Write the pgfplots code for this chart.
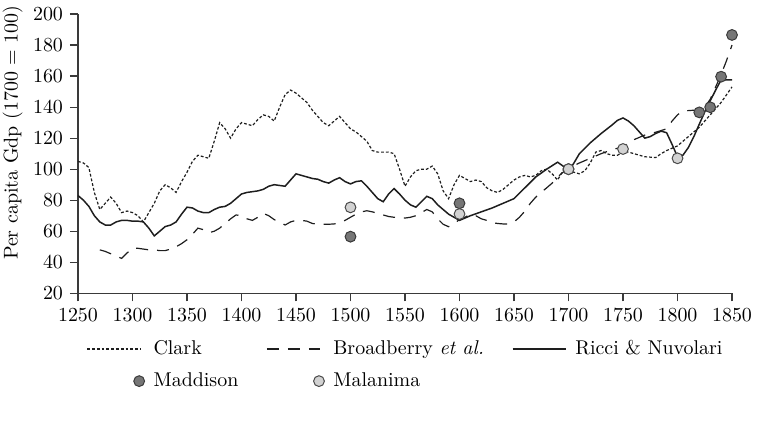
\documentclass[border=0pt]{standalone}
\usepackage{pgfplots}
\pgfplotsset{compat=1.18}
\definecolor{linec}{HTML}{1E1E1E}
\definecolor{axc}{HTML}{3A3A3A}
\definecolor{madf}{HTML}{767676}
\definecolor{madb}{HTML}{3A3A3A}
\definecolor{malf}{HTML}{D2D2D2}
\definecolor{malb}{HTML}{4A4A4A}
\pgfplotsset{markleg/.style={legend image code/.code={\draw[##1] plot coordinates {(26bp,0bp)};}}}
\begin{document}
\begin{tikzpicture}
\useasboundingbox (-39bp,-67.35bp) rectangle (340bp,146.65bp);
\begin{axis}[
  scale only axis, width=327bp, height=139.65bp,
  xmin=1250, xmax=1850, ymin=20, ymax=200,
  xtick={1250,1300,...,1850}, ytick={20,40,...,200},
  axis lines=left, axis line style={-, axc, line width=0.6pt},
  every tick/.style={axc, line width=0.6pt},
  tick align=outside, major tick length=4bp,
  /pgf/number format/1000 sep={},
  tick label style={font=\normalsize},
  ylabel={Per capita Gdp (1700 = 100)},
  ylabel style={at={(axis description cs:-0.1,0.575)}, anchor=center, rotate=0},
  clip=false,
  legend columns=3,
  legend cell align=left,
  legend style={draw=none, fill=none, inner sep=0pt, anchor=west,
    at={(axis description cs:0.0125,-0.2567)},
    row sep=7.5bp,
    nodes={inner sep=0pt, anchor=west},
    /tikz/every odd column/.append style={column sep=4.5bp},
    /tikz/every even column/.append style={column sep=14bp}},
  legend image code/.code={\draw[#1] (0bp,0bp) -- (26.5bp,0bp);},
]
% markers first (lines drawn over them)
\addplot[only marks, mark=*, mark size=2.7bp, mark options={fill=madf, draw=madb, line width=0.5pt}, forget plot]
coordinates {(1500,56.5) (1600,78) (1700,100) (1820,136.6) (1830,139.9) (1840,159.6) (1850,186.5)};
\addplot[only marks, mark=*, mark size=2.7bp, mark options={fill=malf, draw=malb, line width=0.5pt}, forget plot]
coordinates {(1500,75.4) (1600,71.1) (1700,100) (1750,113) (1800,107)};

% Clark
\addplot[linec, line width=0.6pt, dash pattern=on 1.4bp off 1bp] coordinates {
(1250,105) (1255,104) (1260,101) (1265,85) (1270,74) (1275,78) (1280,82) (1285,78) (1290,72) (1295,73)
(1300,72) (1305,70) (1310,66) (1315,72) (1320,78) (1325,86) (1330,90) (1335,88) (1340,85) (1345,92)
(1350,98) (1355,105) (1360,109) (1365,108) (1370,107) (1375,118) (1380,130) (1385,126) (1390,120) (1395,126)
(1400,130) (1405,129) (1410,128) (1415,132) (1420,135) (1425,134) (1430,131) (1435,140) (1440,148) (1445,151)
(1450,149) (1455,146) (1460,143) (1465,138) (1470,134) (1475,130) (1480,128) (1485,131) (1490,134) (1495,130)
(1500,126) (1505,124) (1510,121) (1515,118) (1520,112) (1525,111) (1530,111) (1535,111) (1540,110) (1545,100)
(1550,89) (1555,95) (1560,99) (1565,100) (1570,100) (1575,102) (1580,97) (1585,86) (1590,81) (1595,90)
(1600,96) (1605,94) (1610,92) (1615,93) (1620,92) (1625,88) (1630,86) (1635,85) (1640,87) (1645,90)
(1650,93) (1655,95) (1660,96) (1665,95) (1670,96) (1675,99) (1680,100) (1685,97) (1690,93) (1695,99)
(1700,99) (1705,98) (1710,97) (1715,99) (1720,104) (1725,111) (1730,112) (1735,110) (1740,109) (1745,109)
(1750,111) (1755,111) (1760,110) (1770,108) (1780,107.5) (1785,110) (1790,112) (1800,115) (1805,118) (1810,121)
(1815,124) (1820,127) (1830,135) (1840,143) (1850,153)};
\addlegendentry{Clark}

% Broadberry et al.
\addplot[linec, line width=0.6pt, dash pattern=on 6bp off 4.5bp] coordinates {
(1270,48) (1275,47) (1280,45.5) (1285,44) (1290,42.5) (1295,46) (1300,49) (1305,49) (1310,48.5) (1315,48)
(1320,48) (1325,47.5) (1330,47.5) (1335,48.5) (1340,50) (1345,52) (1350,54.5) (1355,58) (1360,62) (1365,61)
(1370,59) (1375,60) (1380,62) (1385,65) (1390,68) (1395,70.5) (1400,70) (1405,68) (1410,67) (1415,69)
(1420,71.5) (1425,70) (1430,67.5) (1435,66) (1440,64) (1445,66) (1450,67) (1455,67) (1460,66.5) (1465,65)
(1470,64.5) (1475,64.5) (1480,64.5) (1485,64.7) (1490,65.5) (1495,67) (1500,69) (1505,71) (1510,72.5) (1515,73.2)
(1520,72.5) (1525,71.5) (1530,70.5) (1535,69.5) (1540,69) (1545,68.5) (1550,68.5) (1555,69) (1560,70) (1565,72)
(1570,74) (1575,72.5) (1580,68) (1585,64.5) (1590,62.9) (1595,65) (1600,67.5) (1605,69) (1610,71) (1615,70)
(1620,68) (1625,67) (1630,65.5) (1635,65) (1640,64.7) (1645,64.7) (1650,66) (1655,69) (1660,73) (1665,78)
(1670,82) (1675,85) (1680,88) (1685,91) (1690,95) (1695,98) (1700,100.5) (1710,104) (1720,107) (1730,110)
(1740,112.5) (1750,114.5) (1760,119) (1770,122) (1780,123.8) (1790,126) (1795,131) (1800,135) (1805,137.5) (1815,138)
(1820,136.5) (1825,140) (1830,145) (1835,153) (1840,161) (1845,170) (1850,180)};
\addlegendentry{Broadberry \textit{et al.}}

% Ricci & Nuvolari
\addplot[linec, line width=0.75pt] coordinates {
(1250,83) (1255,80) (1260,76) (1265,70) (1270,66) (1275,64) (1280,64) (1285,66) (1290,67) (1295,67)
(1300,66.5) (1305,66.5) (1310,66) (1315,62) (1320,57) (1325,60) (1330,63) (1335,64) (1340,66) (1345,71)
(1350,75.5) (1355,75) (1360,73) (1365,72) (1370,72) (1375,74) (1380,75.5) (1385,76) (1390,78) (1395,81)
(1400,84) (1405,85) (1410,85.5) (1415,86) (1420,87) (1425,89) (1430,90) (1435,89.5) (1440,89) (1445,93)
(1450,97) (1455,96) (1460,95) (1465,94) (1470,93.5) (1475,92) (1480,91) (1485,93) (1490,94.5) (1495,92)
(1500,90.5) (1505,92) (1510,92.5) (1515,89) (1520,85) (1525,81) (1530,79) (1535,84) (1540,87.5) (1545,84)
(1550,80) (1555,77) (1560,75.5) (1565,79) (1570,82.5) (1575,81) (1580,77) (1585,74) (1590,71) (1595,69)
(1600,67) (1610,70) (1620,72.5) (1630,75) (1640,78) (1650,81) (1660,88) (1670,95) (1680,100) (1690,104.5)
(1695,102) (1700,98.5) (1705,104) (1710,110) (1720,117) (1730,123) (1740,128.5) (1745,131.5) (1750,133) (1755,131)
(1760,128) (1765,124) (1770,120) (1775,121) (1780,123) (1785,124.5) (1790,123.5) (1795,116) (1800,108) (1805,109)
(1810,114) (1815,121) (1820,129) (1825,137) (1830,144) (1835,151) (1840,157.5) (1850,157.5)};
\addlegendentry{Ricci \& Nuvolari}

\addlegendimage{markleg, only marks, mark=*, mark size=2.7bp, mark options={fill=madf, draw=madb, line width=0.5pt}}
\addlegendentry{Maddison}
\addlegendimage{markleg, only marks, mark=*, mark size=2.7bp, mark options={fill=malf, draw=malb, line width=0.5pt}}
\addlegendentry{Malanima}
\end{axis}
\end{tikzpicture}
\end{document}
